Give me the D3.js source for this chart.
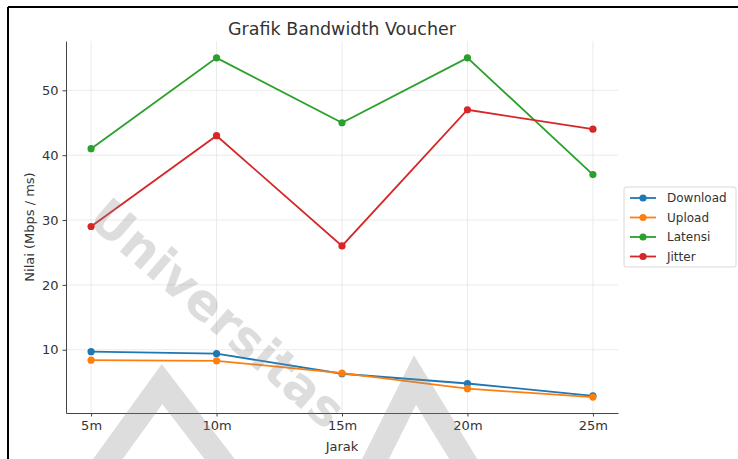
<!doctype html>
<html>
<head>
<meta charset="utf-8">
<title>Grafik Bandwidth Voucher</title>
<script src="https://d3js.org/d3.v7.min.js"></script>
<style>
  body { margin: 0; background: #fff; }
  text { font-family: "DejaVu Sans", sans-serif; }
</style>
</head>
<body>
<div id="chart"></div>
<script>
// data
var jarak = ["5m", "10m", "15m", "20m", "25m"];
var download = [9.7, 9.4, 6.3, 4.8, 2.9];
var upload = [8.4, 8.3, 6.4, 4.0, 2.7];
var latensi = [41, 55, 45, 55, 37];
var jitter = [29, 43, 26, 47, 44];
var yTicks = [10, 20, 30, 40, 50];

var seriesNames = ["Download", "Upload", "Latensi", "Jitter"];
var seriesColors = ["#1f77b4", "#ff7f0e", "#2ca02c", "#d62728"];
var series = [download, upload, latensi, jitter].map(function(v, i) {
    return {name: seriesNames[i], color: seriesColors[i], values: v};
});

var W = 738, H = 459;
var margin = {top: 41, right: 120, bottom: 46, left: 66};
var width = W - margin.left - margin.right,
    height = H - margin.top - margin.bottom;

var svg = d3.select("#chart").append("svg")
    .attr("width", W).attr("height", H);

// black frame of the screenshot
svg.append("line").attr("x1", 8).attr("x2", W).attr("y1", 7).attr("y2", 7)
    .attr("stroke", "#000").attr("stroke-width", 2);
svg.append("line").attr("x1", 8).attr("x2", 8).attr("y1", 7).attr("y2", H)
    .attr("stroke", "#000").attr("stroke-width", 2);

var g = svg.append("g")
    .attr("transform", "translate(" + margin.left + "," + margin.top + ")");

// x: index scale with 5% padding like matplotlib
var x = d3.scaleLinear()
    .domain([-0.2, jarak.length - 1 + 0.2])
    .range([0, width]);
var y = d3.scaleLinear()
    .domain([0.25, 57.6])
    .range([height, 0]);

// grid
g.append("g").selectAll("line").data(jarak).enter().append("line")
    .attr("x1", function(d, i) { return x(i); })
    .attr("x2", function(d, i) { return x(i); })
    .attr("y1", 0).attr("y2", height)
    .attr("stroke", "#e6e6e6").attr("stroke-width", 0.8);
g.append("g").selectAll("line").data(yTicks).enter().append("line")
    .attr("x1", 0).attr("x2", width)
    .attr("y1", function(d) { return y(d); })
    .attr("y2", function(d) { return y(d); })
    .attr("stroke", "#e6e6e6").attr("stroke-width", 0.8);

// axes
var xAxis = g.append("g")
    .attr("transform", "translate(0," + height + ")")
    .call(d3.axisBottom(x).tickValues(d3.range(jarak.length))
        .tickFormat(function(i) { return jarak[i]; })
        .tickSize(3.5).tickSizeOuter(0).tickPadding(4));
var yAxis = g.append("g")
    .call(d3.axisLeft(y).tickValues(yTicks)
        .tickSize(3.5).tickSizeOuter(0).tickPadding(4));

[xAxis, yAxis].forEach(function(a) {
    a.select(".domain").attr("stroke", "#444").attr("stroke-width", 1);
    a.selectAll(".tick line").attr("stroke", "#444");
    a.selectAll(".tick text").attr("fill", "#333")
        .style("font-size", "13px").style("font-family", "DejaVu Sans, sans-serif");
});

// lines + markers
var line = d3.line()
    .x(function(d, i) { return x(i); })
    .y(function(d) { return y(d); });

series.forEach(function(s) {
    g.append("path")
        .datum(s.values)
        .attr("d", line)
        .attr("fill", "none")
        .attr("stroke", s.color)
        .attr("stroke-width", 1.8);
    g.append("g").selectAll("circle").data(s.values).enter().append("circle")
        .attr("cx", function(d, i) { return x(i); })
        .attr("cy", function(d) { return y(d); })
        .attr("r", 3.6)
        .attr("fill", s.color);
});

// title and axis labels
svg.append("text")
    .attr("x", margin.left + width / 2).attr("y", 35)
    .attr("text-anchor", "middle")
    .attr("fill", "#333")
    .style("font-size", "17.5px")
    .text("Grafik Bandwidth Voucher");

svg.append("text")
    .attr("x", margin.left + width / 2).attr("y", 451)
    .attr("text-anchor", "middle")
    .attr("fill", "#333")
    .style("font-size", "13px")
    .text("Jarak");

svg.append("text")
    .attr("transform", "translate(34," + (margin.top + height / 2) + ") rotate(-90)")
    .attr("text-anchor", "middle")
    .attr("fill", "#333")
    .style("font-size", "13px")
    .text("Nilai (Mbps / ms)");

// legend
var legend = svg.append("g").attr("transform", "translate(624,187)");
legend.append("rect")
    .attr("width", 112).attr("height", 80)
    .attr("rx", 2)
    .attr("fill", "#fff").attr("stroke", "#d8d8d8");
var items = legend.selectAll(".item").data(series).enter().append("g")
    .attr("transform", function(d, i) { return "translate(0," + (11 + i * 19.5) + ")"; });
items.append("line")
    .attr("x1", 6).attr("x2", 32)
    .attr("stroke", function(d) { return d.color; })
    .attr("stroke-width", 1.8);
items.append("circle")
    .attr("cx", 19).attr("r", 3.6)
    .attr("fill", function(d) { return d.color; });
items.append("text")
    .attr("x", 43).attr("dy", "0.35em")
    .attr("fill", "#333")
    .style("font-size", "12px")
    .text(function(d) { return d.name; });

// faint watermark over the chart
var wm = svg.append("g").attr("pointer-events", "none").attr("opacity", 0.28);
wm.append("text")
    .attr("transform", "translate(86,222) rotate(41)")
    .attr("fill", "#888")
    .style("font-size", "50px")
    .style("font-weight", "bold")
    .text("Universitas");
wm.append("path")
    .attr("d", "M100,470 L162,384 L228,470")
    .attr("fill", "none").attr("stroke", "#888").attr("stroke-width", 24);
wm.append("path")
    .attr("d", "M370,470 L415,380 L470,470")
    .attr("fill", "none").attr("stroke", "#888").attr("stroke-width", 24);
</script>
</body>
</html>
